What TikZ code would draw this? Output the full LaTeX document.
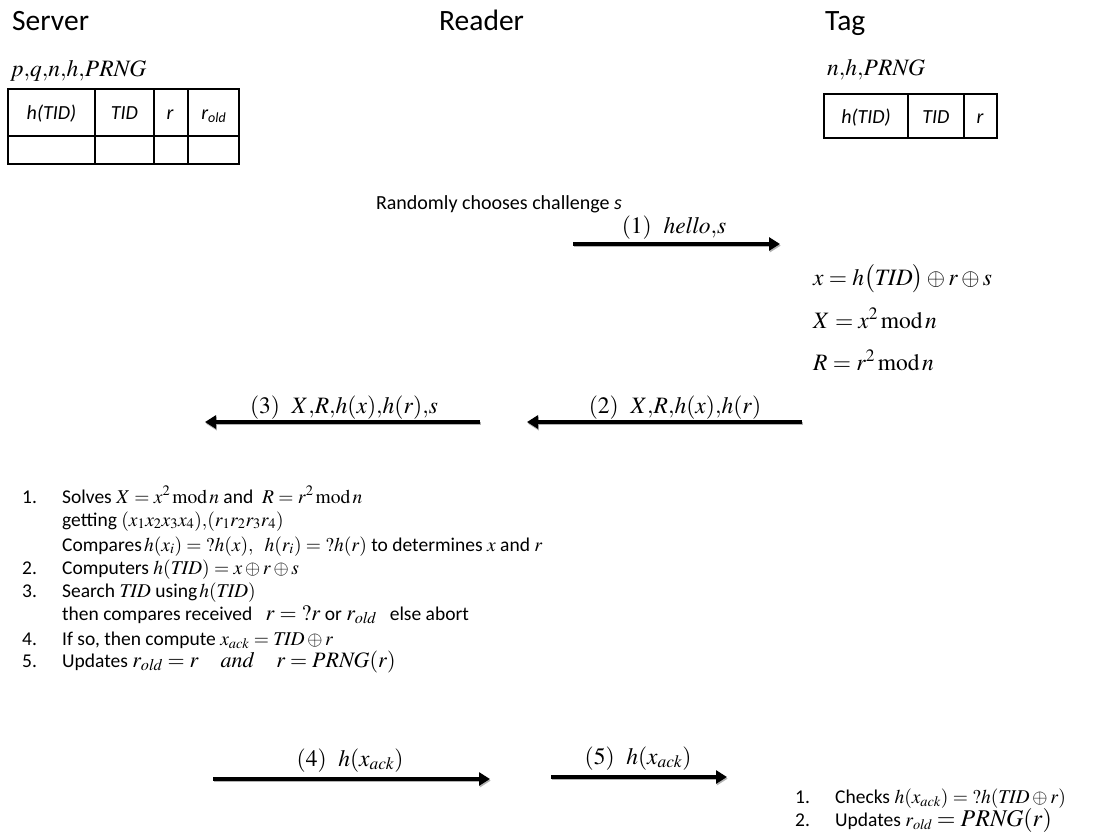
\documentclass[tikz,border=0pt]{standalone}
\usepackage{mathptmx}
\usepackage[no-math]{fontspec}
\setmainfont{Carlito}
\usetikzlibrary{arrows.meta}
\newcommand\myfs[1]{\fontsize{#1}{#1}\selectfont}
\newcommand\mo{\,\mathrm{mod}\,}
\newcommand\cm{{,}}
\newcommand\qq{{?}}
\tikzset{
  hdr/.style={anchor=base west, inner sep=0pt, font=\myfs{29.5}},
  txt/.style={anchor=base west, inner sep=0pt, font=\myfs{19.5}},
  mth/.style={anchor=base west, inner sep=0pt, font=\myfs{23.5}},
  lbl/.style={anchor=base, inner sep=0pt, font=\myfs{23.5}},
  cell/.style={anchor=base, inner sep=0pt, font=\myfs{20}\itshape},
  grid/.style={line width=1.3pt},
  msg/.style={line width=3.4pt, -{Triangle[length=11pt,width=13pt]},
    preaction={draw=black!30, line width=3.4pt, transform canvas={yshift=-1.6pt, xshift=0.8pt}}}
}
\begin{document}
\begin{tikzpicture}[x=1pt,y=-1pt]
\useasboundingbox (0,0) rectangle (1105,838);
% headers
\node[hdr] (server) at (12,30) {Server};
\node[hdr] (reader) at (439,30) {Reader};
\node[hdr] (tag) at (825,30) {Tag};
\node[mth] (sparams) at (10,76) {$p\cm q\cm n\cm h\cm \mathit{PRNG}$};
\node[mth] (tparams) at (827,75) {$n\cm h\cm \mathit{PRNG}$};
% server table
\draw[grid] (8,89) rectangle (239,164);
\draw[grid] (8,136) -- (239,136);
\draw[grid] (95,89) -- (95,164) (154,89) -- (154,164) (188,89) -- (188,164);
\node[cell] (sc1) at (51.5,119) {h(TID)};
\node[cell] (sc2) at (124.5,119) {TID};
\node[cell] (sc3) at (170,119) {r};
\node[cell] (sc4) at (213.5,119) {r\raisebox{-0.35ex}{\myfs{14}old}};
% tag table
\draw[grid] (824,94) rectangle (997,138);
\draw[grid] (908,94) -- (908,138) (964,94) -- (964,138);
\node[cell] (tc1) at (866,123) {h(TID)};
\node[cell] (tc2) at (936,123) {TID};
\node[cell] (tc3) at (980,123) {r};
% reader
\node[anchor=base, inner sep=0pt, font=\myfs{20}] (chal) at (499,209) {Randomly chooses challenge \textit{s}};
% message 1
\coordinate (a1s) at (573,244); \coordinate (a1e) at (780,244);
\draw[msg] (a1s) -- (a1e);
\node[lbl] (l1) at (674,233) {$(1)\enspace \mathit{hello}\cm s$};
% tag computation
\node[mth] (tx) at (813,285) {$x = h\bigl(\mathit{TID}\bigr)\oplus r\oplus s$};
\node[mth] (tX) at (813,328) {$X = x^{2}\mo n$};
\node[mth] (tR) at (813,370) {$R = r^{2}\mo n$};
% message 2 and 3
\coordinate (a2s) at (802,422); \coordinate (a2e) at (527,422);
\draw[msg] (a2s) -- (a2e);
\node[lbl] (l2) at (675,413) {$(2)\enspace X\cm R\cm h(x)\cm h(r)$};
\coordinate (a3s) at (480,422); \coordinate (a3e) at (205,422);
\draw[msg] (a3s) -- (a3e);
\node[lbl] (l3) at (344,413) {$(3)\enspace X\cm R\cm h(x)\cm h(r)\cm s$};
% server steps
\node[txt] (n1) at (22,503) {1.};
\node[txt] (s1) at (62,503) {Solves $X = x^{2}\mo n$ and\ \ $R = r^{2}\mo n$};
\node[txt] (s1b) at (62,526) {getting\ $(x_1x_2x_3x_4)\cm(r_1r_2r_3r_4)$};
\node[txt] (s1c) at (62,551) {Compares$\,h(x_i) = \qq h(x),\ \ h(r_i) = \qq h(r)$ to determines $x$ and $r$};
\node[txt] (n2) at (22,574) {2.};
\node[txt] (s2) at (62,574) {Computers $h(\mathit{TID}) = x\oplus r\oplus s$};
\node[txt] (n3) at (22,597) {3.};
\node[txt] (s3) at (62,597) {Search $\mathit{TID}$ using$\,h(\mathit{TID})$};
\node[txt] (s3b) at (62,620) {then compares received\ \ \ {\myfs{22}$r = \qq r$} or {\myfs{22}$r_{\mathit{old}}$}\ \ \ else abort};
\node[txt] (n4) at (22,645) {4.};
\node[txt] (s4) at (62,645) {If so, then compute $x_{\mathit{ack}} = \mathit{TID}\oplus r$};
\node[txt] (n5) at (22,667) {5.};
\node[txt] (s5) at (62,667) {Updates\ {\myfs{22}$r_{\mathit{old}} = r\quad \mathit{and}\quad r = \mathit{PRNG}(r)$}};
% messages 4 and 5
\coordinate (a4s) at (213,779); \coordinate (a4e) at (490,779);
\draw[msg] (a4s) -- (a4e);
\node[lbl] (l4) at (350,766) {$(4)\enspace h(x_{\mathit{ack}})$};
\coordinate (a5s) at (551,777); \coordinate (a5e) at (727,777);
\draw[msg] (a5s) -- (a5e);
\node[lbl] (l5) at (638,764) {$(5)\enspace h(x_{\mathit{ack}})$};
% tag steps
\node[txt] (t1n) at (795,803) {1.};
\node[txt] (t1) at (835,803) {Checks $h(x_{\mathit{ack}}) = \qq h(\mathit{TID}\oplus r)$};
\node[txt] (t2n) at (795,826) {2.};
\node[txt] (t2) at (835,826) {Updates $r_{\mathit{old}}$ {\myfs{24}$= \mathit{PRNG}(r)$}};
\end{tikzpicture}
\end{document}
